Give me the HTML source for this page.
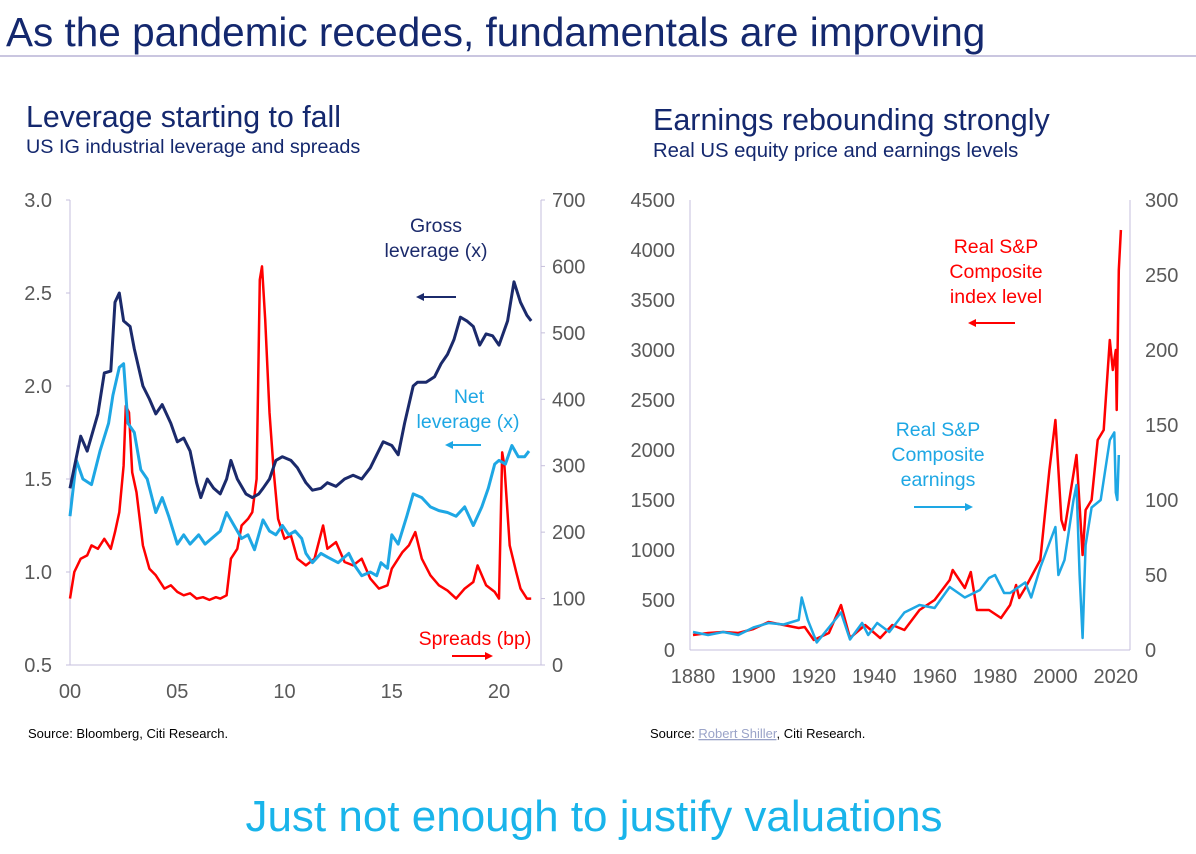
<!DOCTYPE html>
<html><head><meta charset="utf-8"><style>
body{margin:0;background:#fff;width:1196px;height:849px;overflow:hidden;font-family:"Liberation Sans",sans-serif}
svg text{font-family:"Liberation Sans",sans-serif}
</style></head><body>
<svg id="s" width="1196" height="849" viewBox="0 0 1196 849" xmlns="http://www.w3.org/2000/svg">
<text x="6" y="46" font-size="40.5" fill="#14286e">As the pandemic recedes, fundamentals are improving</text>
<line x1="0" y1="56" x2="1196" y2="56" stroke="#b9b3d6" stroke-width="1.5"/>
<text x="26" y="127" font-size="30.3" fill="#14286e">Leverage starting to fall</text>
<text x="26" y="153" font-size="19.8" fill="#14286e">US IG industrial leverage and spreads</text>
<text x="653" y="130" font-size="30.5" fill="#14286e">Earnings rebounding strongly</text>
<text x="653" y="157" font-size="20.3" fill="#14286e">Real US equity price and earnings levels</text>
<g id="L"></g>
<g id="R"></g>
<text x="436" y="232" font-size="19.5" fill="#1b2a6b" text-anchor="middle">Gross</text>
<text x="436" y="257" font-size="19.5" fill="#1b2a6b" text-anchor="middle">leverage (x)</text>
<line x1="456" y1="297" x2="420" y2="297" stroke="#1b2a6b" stroke-width="2"/>
<path d="M416 297 l8 -4 v8z" fill="#1b2a6b"/>
<text x="469" y="403" font-size="19.5" fill="#1ea7e4" text-anchor="middle">Net</text>
<text x="468" y="428" font-size="19.5" fill="#1ea7e4" text-anchor="middle">leverage (x)</text>
<line x1="481" y1="445" x2="449" y2="445" stroke="#1ea7e4" stroke-width="2"/>
<path d="M445 445 l8 -4 v8z" fill="#1ea7e4"/>
<text x="475" y="645" font-size="19.5" fill="#ff0000" text-anchor="middle">Spreads (bp)</text>
<line x1="452" y1="656" x2="488" y2="656" stroke="#ff0000" stroke-width="2"/>
<path d="M493 656 l-8 -4 v8z" fill="#ff0000"/>
<text x="996" y="253" font-size="19.5" fill="#ff0000" text-anchor="middle">Real S&amp;P</text>
<text x="996" y="278" font-size="19.5" fill="#ff0000" text-anchor="middle">Composite</text>
<text x="996" y="303" font-size="19.5" fill="#ff0000" text-anchor="middle">index level</text>
<line x1="1015" y1="323" x2="972" y2="323" stroke="#ff0000" stroke-width="2"/>
<path d="M968 323 l8 -4 v8z" fill="#ff0000"/>
<text x="938" y="436" font-size="19.5" fill="#1ea7e4" text-anchor="middle">Real S&amp;P</text>
<text x="938" y="461" font-size="19.5" fill="#1ea7e4" text-anchor="middle">Composite</text>
<text x="938" y="486" font-size="19.5" fill="#1ea7e4" text-anchor="middle">earnings</text>
<line x1="914" y1="507" x2="968" y2="507" stroke="#1ea7e4" stroke-width="2"/>
<path d="M973 507 l-8 -4 v8z" fill="#1ea7e4"/>
<text x="28" y="738" font-size="13" fill="#000">Source: Bloomberg, Citi Research.</text>
<text x="650" y="738" font-size="13" fill="#000">Source: <tspan fill="#9aa3c8" text-decoration="underline">Robert Shiller</tspan>, Citi Research.</text>
<text x="594" y="831" font-size="44" fill="#19b4ea" text-anchor="middle">Just not enough to justify valuations</text>
</svg>
<script>
const grossX=[2000,2000.5,2000.8,2001.3,2001.6,2001.9,2002.1,2002.3,2002.5,2002.8,2003,2003.4,2003.7,2004,2004.3,2004.7,2005,2005.3,2005.6,2005.9,2006.1,2006.4,2006.7,2007,2007.3,2007.5,2007.8,2008.2,2008.5,2008.8,2009,2009.3,2009.6,2009.9,2010.3,2010.6,2011,2011.3,2011.7,2012,2012.4,2012.8,2013.2,2013.6,2014,2014.3,2014.6,2015,2015.3,2015.6,2016,2016.2,2016.6,2017,2017.3,2017.6,2017.9,2018.2,2018.5,2018.8,2019.1,2019.4,2019.7,2020,2020.4,2020.7,2021,2021.3,2021.5];
const grossY=[1.45,1.73,1.65,1.85,2.07,2.08,2.45,2.5,2.35,2.32,2.2,2.0,1.93,1.85,1.9,1.8,1.7,1.72,1.65,1.48,1.4,1.5,1.45,1.42,1.5,1.6,1.5,1.42,1.4,1.42,1.45,1.5,1.6,1.62,1.6,1.56,1.48,1.44,1.45,1.48,1.46,1.5,1.52,1.5,1.56,1.63,1.7,1.68,1.63,1.8,2.0,2.02,2.02,2.05,2.12,2.17,2.25,2.37,2.35,2.32,2.22,2.28,2.27,2.22,2.35,2.56,2.45,2.38,2.35];
const netX=[2000,2000.3,2000.6,2001,2001.4,2001.8,2002,2002.3,2002.5,2002.7,2003,2003.3,2003.6,2004,2004.3,2004.6,2005,2005.3,2005.6,2006,2006.3,2006.6,2007,2007.3,2007.6,2008,2008.3,2008.6,2009,2009.3,2009.6,2009.9,2010.2,2010.5,2010.8,2011,2011.3,2011.7,2012,2012.5,2013,2013.3,2013.6,2014,2014.3,2014.5,2014.8,2015,2015.3,2015.7,2016,2016.4,2016.8,2017.2,2017.6,2018,2018.4,2018.8,2019.2,2019.5,2019.8,2020,2020.3,2020.6,2020.9,2021.2,2021.4];
const netY=[1.3,1.6,1.5,1.47,1.65,1.8,1.95,2.1,2.12,1.8,1.75,1.55,1.5,1.32,1.4,1.3,1.15,1.2,1.15,1.2,1.15,1.18,1.22,1.32,1.26,1.18,1.2,1.12,1.28,1.22,1.2,1.25,1.2,1.22,1.18,1.1,1.05,1.1,1.08,1.05,1.1,1.03,0.98,1.0,0.98,1.05,1.02,1.2,1.15,1.3,1.42,1.4,1.35,1.33,1.32,1.3,1.35,1.25,1.35,1.45,1.58,1.6,1.58,1.68,1.62,1.62,1.65];
const sprX=[2000,2000.2,2000.5,2000.8,2001,2001.3,2001.6,2001.9,2002.1,2002.3,2002.5,2002.6,2002.75,2002.9,2003.1,2003.4,2003.7,2004,2004.4,2004.7,2005,2005.3,2005.6,2005.9,2006.2,2006.5,2006.8,2007,2007.3,2007.5,2007.8,2008,2008.3,2008.5,2008.7,2008.85,2008.95,2009.1,2009.3,2009.5,2009.7,2010,2010.3,2010.6,2011,2011.4,2011.8,2012,2012.4,2012.8,2013.2,2013.6,2014,2014.4,2014.8,2015,2015.5,2015.8,2016.1,2016.4,2016.8,2017.2,2017.6,2018,2018.4,2018.8,2019,2019.4,2019.8,2020,2020.15,2020.25,2020.5,2020.8,2021,2021.3,2021.5];
const sprY=[100,140,160,165,180,175,190,175,200,230,300,390,380,290,260,180,145,135,115,120,110,105,108,100,102,98,102,100,105,160,175,210,220,230,280,580,600,520,380,290,220,190,195,160,150,160,210,175,185,155,150,160,130,115,120,145,170,180,200,160,135,120,112,100,115,125,150,120,110,100,320,300,180,140,115,100,100];
const pxX=[1880,1885,1890,1895,1900,1905,1910,1915,1917,1920,1925,1929,1932,1937,1942,1946,1950,1955,1960,1965,1966,1970,1972,1974,1978,1982,1985,1987,1988,1990,1995,1998,2000,2002,2003,2007,2009,2010,2012,2014,2016,2018,2019,2020,2020.3,2021,2021.7];
const pxY=[150,170,180,170,210,280,250,220,230,100,170,450,120,250,120,250,200,400,500,700,800,620,780,400,400,320,450,650,520,620,900,1800,2300,1300,1200,1950,950,1400,1500,2100,2200,3100,2800,3000,2400,3800,4200];
const eaX=[1880,1885,1890,1895,1900,1905,1910,1915,1916,1918,1921,1925,1929,1932,1936,1938,1941,1945,1950,1955,1960,1965,1970,1975,1978,1980,1983,1985,1990,1992,1995,2000,2001,2003,2006,2007,2008,2009,2010,2012,2015,2018,2019.5,2020,2020.5,2021];
const eaY=[12,10,12,10,15,18,17,20,35,20,5,15,25,7,18,10,18,12,25,30,28,42,35,40,48,50,38,38,45,35,55,82,50,60,100,110,50,8,70,95,100,140,145,105,100,130];
const levTicks=[0.5,1.0,1.5,2.0,2.5,3.0], bpTicks=[0,100,200,300,400,500,600,700], yrTicks=['00','05','10','15','20'];
const pxTicks=[0,500,1000,1500,2000,2500,3000,3500,4000,4500], eTicks=[0,50,100,150,200,250,300], decTicks=[1880,1900,1920,1940,1960,1980,2000,2020];
const NS='http://www.w3.org/2000/svg';
function mk(p,t,a){const e=document.createElementNS(NS,t);for(const k in a)e.setAttribute(k,a[k]);p.appendChild(e);return e;}
function path(g,xs,ys,fx,fy,col,w,name){let d='';xs.forEach((x,i)=>{d+=(i?'L':'M')+fx(x).toFixed(1)+' '+fy(ys[i]).toFixed(1);});
const e=mk(g,'path',{d:d,fill:'none',stroke:col,'stroke-width':w,'stroke-linejoin':'round'});

}
function txt(g,x,y,s,anchor,name){const e=mk(g,'text',{x:x,y:y,'font-size':20,fill:'#595959','text-anchor':anchor});e.textContent=s;

}
const L=document.getElementById('L');
const lx=v=>70+(v-2000)*21.45, ly=v=>665-(v-0.5)*186, ry=v=>665-v*465/700;
const ax='#c6bfdc';
mk(L,'line',{x1:70,y1:200,x2:70,y2:665,stroke:ax});mk(L,'line',{x1:541,y1:200,x2:541,y2:665,stroke:ax});mk(L,'line',{x1:70,y1:665,x2:541,y2:665,stroke:ax});
levTicks.forEach(v=>{mk(L,'line',{x1:66,x2:70,y1:ly(v),y2:ly(v),stroke:ax});txt(L,52,ly(v)+7,v.toFixed(1),'end','left-y-tick');});
bpTicks.forEach(v=>{mk(L,'line',{x1:541,x2:545,y1:ry(v),y2:ry(v),stroke:ax});txt(L,552,ry(v)+7,String(v),'start','right-y-tick');});
yrTicks.forEach((s,i)=>{txt(L,lx(2000+5*i),698,s,'middle','x-tick');});
path(L,sprX,sprY,lx,ry,'#ff0000',2.5,'spreads-line');
path(L,netX,netY,lx,ly,'#1ea7e4',3,'net-leverage-line');
path(L,grossX,grossY,lx,ly,'#1b2a6b',3,'gross-leverage-line');
const R=document.getElementById('R');
const rx=v=>693+(v-1880)*3.02, py=v=>650-v*0.1, ey=v=>650-v*1.5;
mk(R,'line',{x1:690,y1:200,x2:690,y2:650,stroke:ax});mk(R,'line',{x1:1130,y1:200,x2:1130,y2:650,stroke:ax});mk(R,'line',{x1:690,y1:650,x2:1130,y2:650,stroke:ax});
pxTicks.forEach(v=>{txt(R,675,py(v)+7,String(v),'end','left-y-tick');});
eTicks.forEach(v=>{txt(R,1145,ey(v)+7,String(v),'start','right-y-tick');});
decTicks.forEach(v=>{txt(R,rx(v),683,String(v),'middle','x-tick');});
path(R,pxX,pxY,rx,py,'#ff0000',2.5,'price-line');
path(R,eaX,eaY,rx,ey,'#1ea7e4',2.5,'earnings-line');
</script>
</body></html>
